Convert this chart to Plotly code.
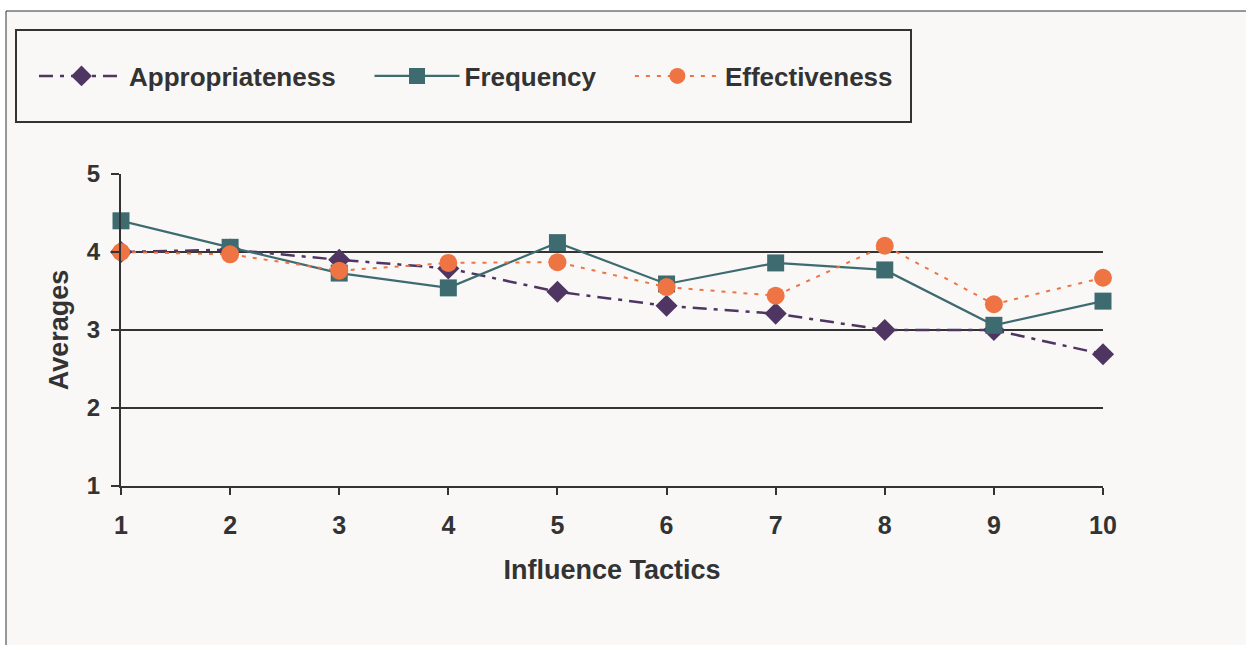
import plotly.graph_objects as go

tactics = [1, 2, 3, 4, 5, 6, 7, 8, 9, 10]
appropriateness = [4.00, 4.03, 3.90, 3.79, 3.49, 3.31, 3.21, 3.00, 3.00, 2.69]
frequency = [4.40, 4.06, 3.73, 3.54, 4.12, 3.59, 3.86, 3.77, 3.06, 3.37]
effectiveness = [4.00, 3.97, 3.76, 3.86, 3.87, 3.55, 3.44, 4.08, 3.33, 3.67]
series_names = ["Appropriateness", "Frequency", "Effectiveness"]
x_ticks = [1, 2, 3, 4, 5, 6, 7, 8, 9, 10]
y_ticks = [1, 2, 3, 4, 5]

W, H = 1246, 645
L, R, T, B = 121, 1103, 174, 486
pw, ph = R - L, B - T


def px(x):
    return (x - L) / pw


def py(y):
    return (B - y) / ph


FONT = "Liberation Sans, Arial, sans-serif"
TXT = "#333333"
PURPLE = "#4e3562"
TEAL = "#3d6b70"
ORANGE = "#ee7444"
PAD = "\u00a0" * 4

fig = go.Figure()
fig.add_trace(go.Scatter(
    x=tactics, y=appropriateness, name=series_names[0] + PAD, mode="lines+markers",
    line=dict(color=PURPLE, width=2.5, dash="14px,7px,4px,7px"),
    marker=dict(symbol="diamond", size=17, color=PURPLE),
    cliponaxis=False,
))
fig.add_trace(go.Scatter(
    x=tactics, y=frequency, name=series_names[1] + PAD, mode="lines+markers",
    line=dict(color=TEAL, width=2.2),
    marker=dict(symbol="square", size=17, color=TEAL),
    cliponaxis=False,
))
fig.add_trace(go.Scatter(
    x=tactics, y=effectiveness, name=series_names[2], mode="lines+markers",
    line=dict(color=ORANGE, width=2, dash="4px,7px"),
    marker=dict(symbol="circle", size=18, color=ORANGE),
    cliponaxis=False,
))

shapes = [
    dict(type="rect", xref="paper", yref="paper", layer="below",
         x0=px(6), x1=px(1260), y0=py(660), y1=py(11),
         fillcolor="#f9f8f6", line=dict(color="#333333", width=1)),
    dict(type="rect", xref="paper", yref="paper", layer="below",
         x0=px(16), x1=px(911), y0=py(122), y1=py(30),
         fillcolor="rgba(0,0,0,0)", line=dict(color="#333333", width=2)),
]

fig.update_layout(
    width=W, height=H,
    margin=dict(l=L, r=W - R, t=T, b=H - B, pad=0),
    paper_bgcolor="white",
    plot_bgcolor="#f9f8f6",
    shapes=shapes,
    showlegend=True,
    legend=dict(
        orientation="h", x=px(34), y=py(76), xanchor="left", yanchor="middle",
        font=dict(family=FONT, size=26, color=TXT, weight="bold"),
        bgcolor="rgba(0,0,0,0)", borderwidth=0, itemwidth=85,
    ),
    xaxis=dict(
        range=[1, 10], tickvals=x_ticks, showgrid=False, zeroline=False,
        showline=True, linecolor="#333333", linewidth=2,
        ticks="outside", ticklen=7, tickwidth=2, tickcolor="#333333",
        ticklabelstandoff=9,
        tickfont=dict(family=FONT, size=25, color=TXT, weight="bold"),
        title=dict(text="Influence Tactics", standoff=22,
                   font=dict(family=FONT, size=27, color=TXT, weight="bold")),
    ),
    yaxis=dict(
        range=[1, 5], tickvals=y_ticks, showgrid=True, gridcolor="#333333", gridwidth=2,
        zeroline=False, showline=True, linecolor="#333333", linewidth=2,
        ticks="outside", ticklen=8, tickwidth=2, tickcolor="#333333",
        ticklabelstandoff=6,
        tickfont=dict(family=FONT, size=24, color=TXT, weight="bold"),
        title=dict(text="Averages", standoff=10,
                   font=dict(family=FONT, size=27, color=TXT, weight="bold")),
    ),
)

fig.write_html("out.html", config={"displayModeBar": False},
               post_script="document.body.style.margin='0';")
